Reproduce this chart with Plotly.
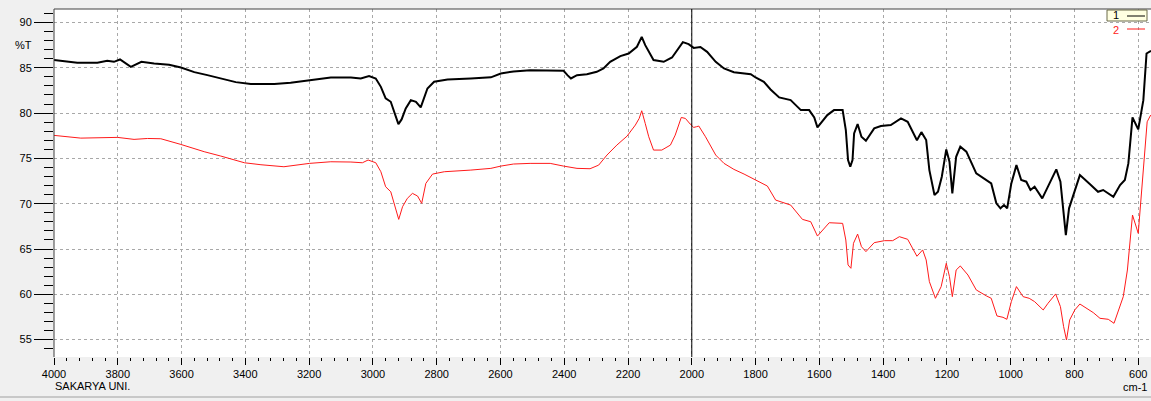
import plotly.graph_objects as go

# ---- data (wavenumber cm-1, %T) ----
wn_1 = [4000, 3927, 3864, 3833, 3812, 3793, 3759, 3726, 3686, 3639, 3602, 3560, 3519, 3477, 3430,
        3383, 3309, 3258, 3199, 3132, 3069, 3038, 3012, 2991, 2975, 2960, 2944, 2931, 2920, 2910,
        2897, 2881, 2865, 2850, 2839, 2829, 2808, 2766, 2693, 2630, 2599, 2559, 2507, 2455, 2402,
        2390, 2379, 2360, 2329, 2298, 2277, 2256, 2224, 2198, 2172, 2157, 2146, 2120, 2088, 2062,
        2047, 2028, 2010, 1994, 1973, 1952, 1925, 1899, 1868, 1815, 1800, 1774, 1753, 1726, 1690,
        1658, 1632, 1616, 1606, 1590, 1575, 1554, 1527, 1517, 1510, 1503, 1496, 1491, 1480, 1468,
        1454, 1428, 1407, 1376, 1344, 1323, 1307, 1294, 1280, 1265, 1255, 1239, 1228, 1216, 1202,
        1192, 1183, 1171, 1158, 1139, 1108, 1076, 1061, 1045, 1032, 1021, 1011, 998, 982, 967,
        951, 938, 925, 901, 877, 857, 844, 836, 827, 817, 804, 783, 752, 726, 710,
        678, 657, 642, 631, 618, 600, 584, 574, 560]
t_1 = [85.85, 85.55, 85.55, 85.77, 85.66, 85.92, 85.11, 85.66, 85.48, 85.33, 85.04, 84.52, 84.19, 83.79, 83.42,
       83.2, 83.2, 83.35, 83.64, 83.93, 83.93, 83.82, 84.08, 83.82, 82.9, 81.62, 81.25, 79.96, 78.79, 79.3,
       80.51, 81.43, 81.25, 80.63, 81.62, 82.72, 83.46, 83.71, 83.82, 83.95, 84.37, 84.6, 84.74, 84.67, 84.67,
       84.19, 83.82, 84.19, 84.3, 84.56, 84.93, 85.66, 86.29, 86.58, 87.32, 88.42, 87.5, 85.85, 85.66, 86.14,
       86.95, 87.83, 87.61, 87.2, 87.3, 86.76, 85.66, 84.93, 84.52, 84.3, 83.93, 83.46, 82.61, 81.73, 81.43,
       80.33, 80.33, 79.52, 78.42, 79.15, 79.78, 80.33, 80.33, 78.13, 74.82, 74.08, 74.82, 77.76, 78.79, 77.39,
       76.95, 78.31, 78.57, 78.68, 79.41, 79.04, 77.9, 77.0, 77.9, 77.02, 73.71, 70.96, 71.32, 72.98, 75.99,
       74.63, 71.14, 75.18, 76.29, 75.74, 73.35, 72.54, 72.24, 70.04, 69.49, 69.85, 69.49, 72.24, 74.26, 72.61,
       72.43, 71.51, 71.87, 70.59, 72.24, 73.79, 72.43, 69.67, 66.54, 69.49, 70.96, 73.16, 72.17, 71.32, 71.51,
       70.77, 72.06, 72.61, 74.45, 79.52, 78.2, 81.43, 86.58, 86.88]

wn_2 = [4000, 3916, 3801, 3749, 3707, 3665, 3602, 3529, 3477, 3403, 3351, 3309, 3279, 3199, 3132,
        3069, 3033, 3015, 2991, 2975, 2960, 2944, 2931, 2919, 2907, 2892, 2876, 2860, 2847, 2834,
        2813, 2776, 2693, 2630, 2599, 2559, 2507, 2444, 2402, 2360, 2319, 2292, 2266, 2235, 2203,
        2177, 2165, 2157, 2146, 2135, 2120, 2094, 2067, 2052, 2033, 2020, 2005, 1994, 1985, 1978,
        1957, 1925, 1899, 1868, 1836, 1800, 1763, 1737, 1690, 1653, 1627, 1606, 1590, 1569, 1527,
        1517, 1510, 1501, 1493, 1480, 1468, 1454, 1428, 1396, 1370, 1349, 1323, 1310, 1294, 1276,
        1265, 1255, 1236, 1218, 1202, 1192, 1183, 1171, 1158, 1134, 1108, 1076, 1061, 1043, 1024,
        1012, 998, 982, 961, 942, 925, 898, 883, 859, 844, 834, 825, 815, 799, 783,
        741, 720, 694, 676, 647, 634, 618, 600, 584, 572, 561]
t_2 = [77.54, 77.24, 77.32, 77.1, 77.2, 77.17, 76.54, 75.74, 75.26, 74.52, 74.3, 74.15, 74.08, 74.45, 74.63,
       74.6, 74.52, 74.82, 74.52, 73.53, 71.87, 71.32, 69.85, 68.27, 69.67, 70.59, 71.14, 70.85, 70.04, 72.24,
       73.27, 73.53, 73.71, 73.9, 74.15, 74.38, 74.45, 74.45, 74.15, 73.9, 73.86, 74.26, 75.37, 76.47, 77.46,
       78.68, 79.41, 80.26, 78.86, 77.39, 75.92, 75.92, 76.47, 77.57, 79.52, 79.41, 78.79, 78.42, 78.5, 78.57,
       77.39, 75.37, 74.45, 73.79, 73.27, 72.61, 71.95, 70.4, 69.85, 68.27, 68.01, 66.43, 67.1, 67.9, 67.83,
       65.99, 63.24, 62.87, 65.63, 66.65, 65.26, 64.71, 65.7, 65.92, 65.92, 66.36, 66.07, 65.2, 64.2, 64.9,
       63.79, 61.4, 59.56, 60.85, 63.42, 61.95, 59.74, 62.68, 63.13, 62.13, 60.48, 59.82, 59.56, 57.61, 57.46,
       57.24, 59.19, 60.85, 59.74, 59.56, 59.19, 58.27, 59.01, 60.04, 58.64, 56.43, 54.96, 57.17, 58.27, 58.93,
       57.98, 57.35, 57.24, 56.8, 59.74, 62.68, 68.75, 66.73, 73.71, 79.04, 79.78]

x_ticks = [4000, 3800, 3600, 3400, 3200, 3000, 2800, 2600, 2400, 2200, 2000, 1800, 1600, 1400, 1200, 1000, 800, 600]
y_ticks = [55, 60, 65, 70, 75, 80, 85, 90]
names = ["1", "2"]
colors = ["#000000", "#ff1a1a"]

W, H = 1151, 401
ML, MR, MT, MB = 54, 0, 9, 44
PW, PH = W - ML - MR, H - MT - MB

def px(X):
    return (X - ML) / PW

def py(Y):
    return (H - MB - Y) / PH

FONT = "Liberation Sans"

fig = go.Figure()
fig.add_trace(go.Scatter(x=wn_1, y=t_1, mode="lines", name=names[0],
                         line=dict(color=colors[0], width=2), showlegend=False))
fig.add_trace(go.Scatter(x=wn_2, y=t_2, mode="lines", name=names[1],
                         line=dict(color=colors[1], width=1), showlegend=False))

fig.update_layout(
    width=W, height=H,
    margin=dict(l=ML, r=MR, t=MT, b=MB, pad=0),
    paper_bgcolor="#f0f0f0", plot_bgcolor="#ffffff",
    font=dict(family=FONT, size=11, color="#000000"),
    xaxis=dict(range=[4000, 560], tickvals=x_ticks, ticktext=[str(v) for v in x_ticks],
               ticks="outside", ticklen=7, tickcolor="#000000", tickwidth=1,
               minor=dict(dtick=40, tick0=4000, ticks="outside", ticklen=3, tickcolor="#000000", showgrid=False),
               showgrid=True, gridcolor="#a8a8a8", griddash="dot", gridwidth=1,
               zeroline=False, showline=False, tickfont=dict(size=11)),
    yaxis=dict(range=[53.08, 91.49], tickvals=y_ticks,
               ticks="outside", ticklen=19, tickcolor="#000000", tickwidth=1,
               minor=dict(dtick=1, tick0=55, ticks="outside", ticklen=9, tickcolor="#000000", showgrid=False),
               showgrid=True, gridcolor="#a8a8a8", griddash="dot", gridwidth=1,
               zeroline=False, showline=False, tickfont=dict(size=11)),
)

shapes = [
    # plot frame top & left
    dict(type="line", xref="paper", yref="paper", x0=0, x1=1, y0=1, y1=1, line=dict(color="#404040", width=1)),
    dict(type="line", xref="paper", yref="paper", x0=0, x1=0, y0=0, y1=1, line=dict(color="#404040", width=1)),
    # cursor at 2000
    dict(type="line", xref="x", yref="paper", x0=2000, x1=2000, y0=0, y1=1, line=dict(color="#000000", width=1)),
    # bottom window line
    dict(type="line", xref="paper", yref="paper", x0=px(0), x1=px(W), y0=py(397), y1=py(397),
         line=dict(color="#a0a0a0", width=1)),
    # legend box
    dict(type="rect", xref="paper", yref="paper", x0=px(1107), x1=px(1147), y0=py(21), y1=py(10),
         fillcolor="#ffffe1", line=dict(color="#6b6b4b", width=1)),
    dict(type="line", xref="paper", yref="paper", x0=px(1127), x1=px(1145), y0=py(16), y1=py(16),
         line=dict(color=colors[0], width=1)),
    dict(type="line", xref="paper", yref="paper", x0=px(1127), x1=px(1145), y0=py(29), y1=py(29),
         line=dict(color=colors[1], width=1)),
]
fig.update_layout(shapes=shapes)

annots = [
    dict(text="%T", x=px(13), y=py(45), xanchor="left", yanchor="middle"),
    dict(text="SAKARYA UNI.", x=px(53), y=py(386), xanchor="left", yanchor="middle"),
    dict(text="cm-1", x=px(1149), y=py(387), xanchor="right", yanchor="middle"),
    dict(text=names[0], x=px(1111), y=py(15.5), xanchor="left", yanchor="middle", font=dict(color="#000000")),
    dict(text=names[1], x=px(1111), y=py(29.5), xanchor="left", yanchor="middle", font=dict(color=colors[1])),
]
for a in annots:
    a.update(xref="paper", yref="paper", showarrow=False)
    a.setdefault("font", dict())
    a["font"].update(family=FONT, size=11)
    fig.add_annotation(**a)

fig.write_html("out.html", config={"displayModeBar": False},
               post_script="document.body.style.margin='0';document.body.style.padding='0';document.body.style.overflow='hidden';")
